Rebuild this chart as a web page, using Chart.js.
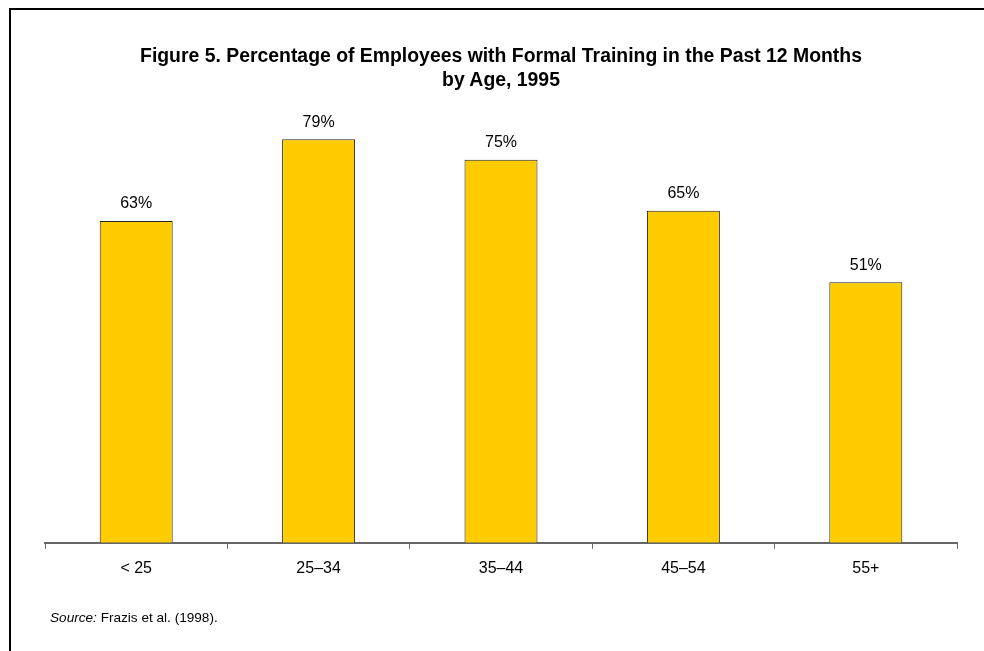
<!DOCTYPE html>
<html>
<head>
<meta charset="utf-8">
<script src="https://cdn.jsdelivr.net/npm/chart.js@4"></script>
<style>
  html, body { margin: 0; padding: 0; background: #fff; }
  #wrap { position: relative; width: 984px; height: 651px; overflow: hidden; font-family: "Liberation Sans", Arial, sans-serif; }
  #frame { position: absolute; left: 9px; top: 8px; right: -10px; bottom: -10px; border-left: 2px solid #000; border-top: 2px solid #000; }
  #title { position: absolute; left: 10px; width: 982px; top: 43px; text-align: center; font-weight: bold; font-size: 19.4px; line-height: 24px; color: #000; }
  #source { position: absolute; left: 50px; top: 609px; font-size: 13.6px; line-height: 18px; color: #000; }
  canvas { position: absolute; left: 0; top: 0; }
</style>
</head>
<body>
<div id="wrap">
  <div id="frame"></div>
  <canvas id="trainingChart" width="984" height="651"></canvas>
  <div id="title">Figure 5. Percentage of Employees with Formal Training in the Past 12 Months<br>by Age, 1995</div>
  <div id="source"><i>Source:</i> Frazis et al. (1998).</div>
</div>
<script>
// Data
const ageGroups = ['< 25', '25–34', '35–44', '45–54', '55+'];
const trainedPct = [63, 79, 75, 65, 51];

// Value labels above bars
const barLabels = {
    id: 'barLabels',
    afterDatasetsDraw(chart) {
        const ctx = chart.ctx;
        const meta = chart.getDatasetMeta(0);
        ctx.save();
        ctx.font = '16px "Liberation Sans", Arial, sans-serif';
        ctx.fillStyle = '#000';
        ctx.textAlign = 'center';
        ctx.textBaseline = 'bottom';
        meta.data.forEach((bar, i) => {
            ctx.fillText(trainedPct[i] + '%', bar.x, bar.y - 9);
        });
        ctx.restore();
    }
};

const ctx = document.getElementById('trainingChart');
new Chart(ctx, {
    type: 'bar',
    data: {
        labels: ageGroups,
        datasets: [{
            data: trainedPct,
            backgroundColor: '#FFCC00',
            borderColor: '#222',
            borderWidth: 1,
            barPercentage: 0.4,
            categoryPercentage: 1
        }]
    },
    options: {
        responsive: false,
        animation: false,
        layout: {
            padding: { left: 45, right: 27, top: 32, bottom: 63 }
        },
        plugins: {
            legend: { display: false },
            tooltip: { enabled: false }
        },
        scales: {
            x: {
                grid: {
                    drawOnChartArea: false,
                    drawTicks: true,
                    tickLength: 6,
                    color: '#666',
                    offset: true
                },
                border: { color: '#666', width: 2 },
                ticks: {
                    color: '#000',
                    padding: 10,
                    font: { size: 16, family: '"Liberation Sans", Arial, sans-serif' }
                }
            },
            y: {
                display: false,
                min: 0,
                max: 100
            }
        }
    },
    plugins: [barLabels]
});
</script>
</body>
</html>
